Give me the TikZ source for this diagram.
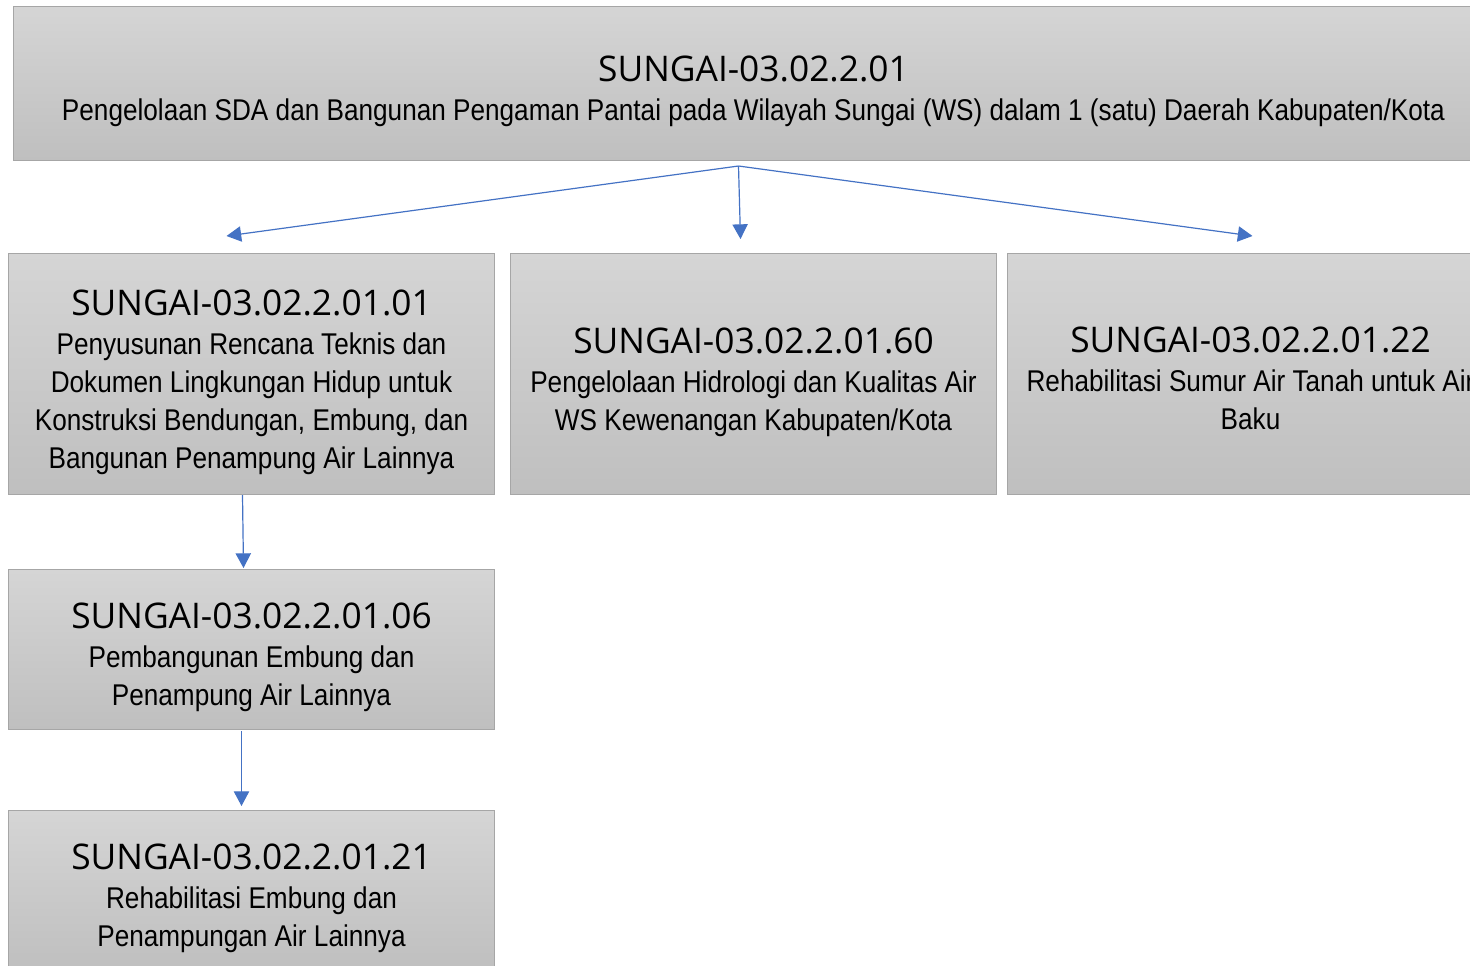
\documentclass[tikz,border=0pt]{standalone}
\usepackage{fontspec}
\usetikzlibrary{arrows.meta,calc}
\newfontfamily\tfont{Open Sans}
\newfontfamily\sfont[FakeStretch=0.872]{Liberation Sans}
\definecolor{boxtop}{RGB}{213,213,213}
\definecolor{boxbot}{RGB}{191,191,191}
\definecolor{boxline}{RGB}{166,166,166}
\definecolor{arrblue}{RGB}{68,114,196}
\newcommand{\ttl}[1]{{\tfont\fontsize{26.5pt}{30pt}\selectfont #1}}
\tikzset{
  box/.style={draw=boxline, line width=0.75pt, rectangle, anchor=north west,
    top color=boxtop, bottom color=boxbot, shading angle=0, inner sep=0pt},
  txt/.style={align=center, inner sep=0pt, text=black,
    font=\sfont\fontsize{22.5pt}{28.5pt}\selectfont},
  arr/.style={draw=arrblue, line width=0.9pt, -{Triangle[length=11pt,width=11.5pt]}},
}
\begin{document}
\begin{tikzpicture}[x=0.75pt,y=-0.75pt]
\useasboundingbox (0,0) rectangle (1470,965);
\begin{scope}
\clip (0,0) rectangle (1470,965);
\node[box, minimum width=1110pt, minimum height=115.5pt] (top) at (13,6) {};
\node[box, minimum width=364.5pt, minimum height=180.75pt] (b1) at (8,253) {};
\node[box, minimum width=364.5pt, minimum height=180.75pt] (b2) at (510,253) {};
\node[box, minimum width=364.5pt, minimum height=180.75pt] (b3) at (1007,253) {};
\node[box, minimum width=364.5pt, minimum height=120pt] (b4) at (8,569) {};
\node[box, minimum width=364.5pt, minimum height=120pt] (b5) at (8,810) {};
\node[txt] (topt) at ($(top.center)+(0,8)$)
  {\ttl{SUNGAI-03.02.2.01}\\[1pt]Pengelolaan SDA dan Bangunan Pengaman Pantai pada Wilayah Sungai (WS) dalam 1 (satu) Daerah Kabupaten/Kota};
\node[txt] (b1t) at ($(b1.center)+(0,8)$)
  {\ttl{SUNGAI-03.02.2.01.01}\\[1pt]Penyusunan Rencana Teknis dan\\Dokumen Lingkungan Hidup untuk\\Konstruksi Bendungan, Embung, dan\\Bangunan Penampung Air Lainnya};
\node[txt] (b2t) at ($(b2.center)+(0,8)$)
  {\ttl{SUNGAI-03.02.2.01.60}\\[1pt]Pengelolaan Hidrologi dan Kualitas Air\\WS Kewenangan Kabupaten/Kota};
\node[txt] (b3t) at ($(b3.center)+(0,4)$)
  {\ttl{SUNGAI-03.02.2.01.22}\\[1pt]Rehabilitasi Sumur Air Tanah untuk Air\\Baku};
\node[txt] (b4t) at ($(b4.center)+(0,8)$)
  {\ttl{SUNGAI-03.02.2.01.06}\\[1pt]Pembangunan Embung dan\\Penampung Air Lainnya};
\node[txt] (b5t) at ($(b5.center)+(0,8)$)
  {\ttl{SUNGAI-03.02.2.01.21}\\[1pt]Rehabilitasi Embung dan\\Penampungan Air Lainnya};
\coordinate (src) at ($(top.south)+(-15,5)$);
\draw[arr] (src) -- ($(b1.north)+(-25,-17)$);
\draw[arr] (src) -- ($(b2.north)+(-13,-14)$);
\draw[arr] (src) -- ($(b3.north)+(2,-17)$);
\draw[arr] ($(b1.south)+(-9,0)$) -- ($(b4.north)+(-8,-1)$);
\draw[arr] ($(b4.south)+(-10,1)$) -- ($(b5.north)+(-10,-4)$);
\end{scope}
\end{tikzpicture}
\end{document}
